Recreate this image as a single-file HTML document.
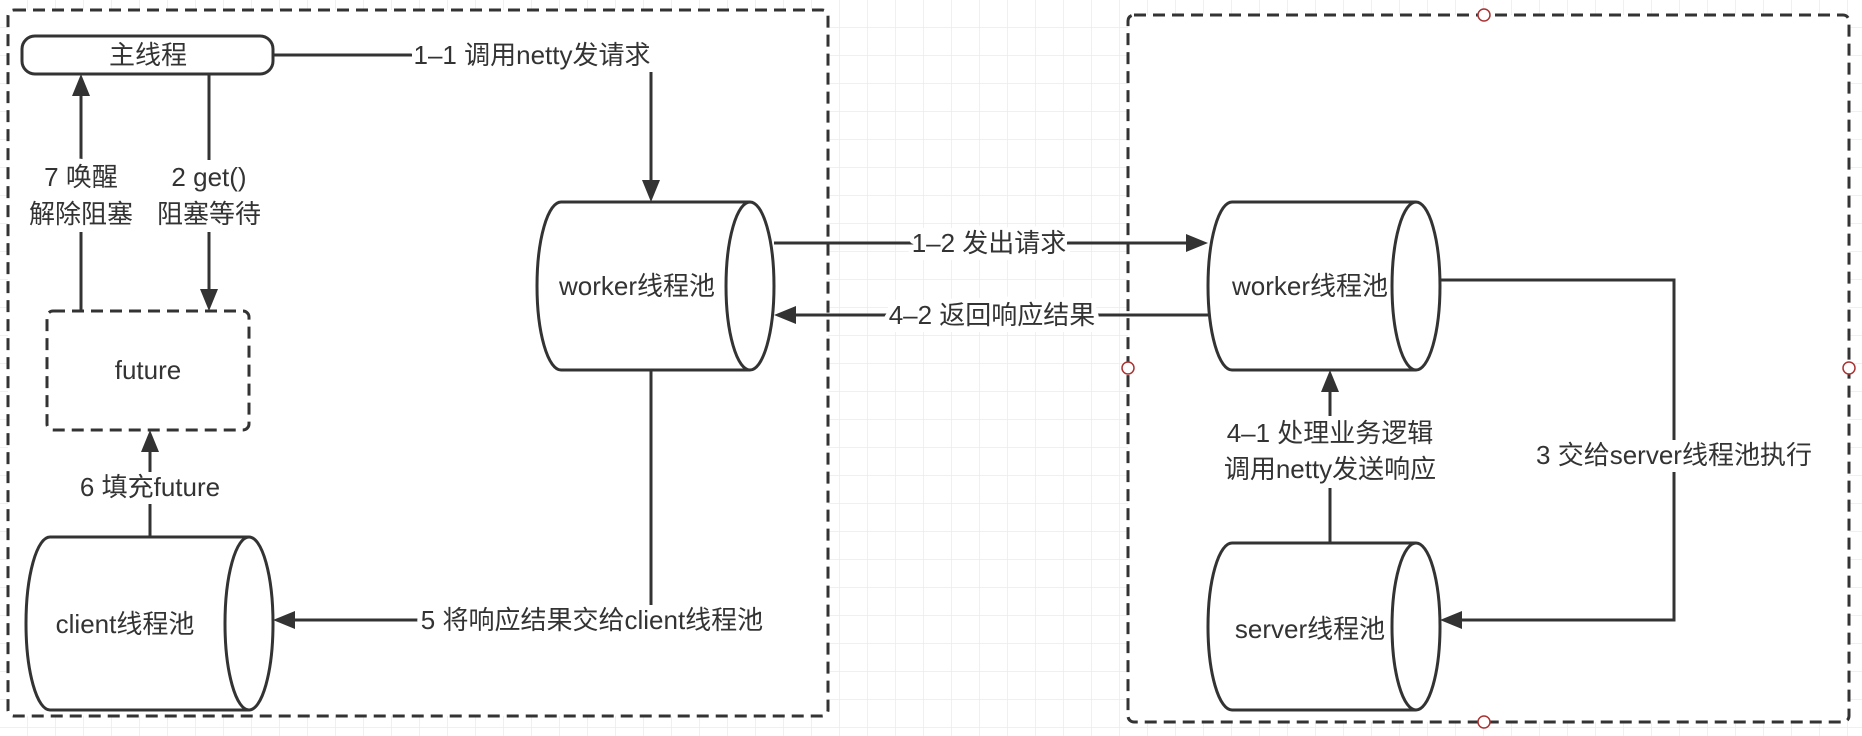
<!DOCTYPE html>
<html><head><meta charset="utf-8"><style>
html,body{margin:0;padding:0;background:#fff}
svg{display:block}
text{font-family:"Liberation Sans","Noto Sans CJK SC",sans-serif;font-size:26px;fill:#333}
.l{stroke:#fff;stroke-width:10px;paint-order:stroke;stroke-linejoin:round}
</style></head><body>
<svg width="1862" height="736" viewBox="0 0 1862 736" xmlns="http://www.w3.org/2000/svg">
<defs>
<pattern id="g" width="28" height="28" patternUnits="userSpaceOnUse">
<path d="M28 0V28M0 28H28" stroke="#ebebeb" stroke-width="1.5" fill="none"/>
</pattern>
</defs>
<rect width="1862" height="736" fill="url(#g)"/>
<rect x="8" y="10" width="820" height="706" rx="6" fill="#fff" stroke="#333" stroke-width="3" stroke-dasharray="12 7"/>
<rect x="1128" y="15" width="721" height="707" rx="6" fill="#fff" stroke="#333" stroke-width="3" stroke-dasharray="12 7"/>
<g fill="#fff" stroke="#a33" stroke-width="1.5">
<circle cx="1484" cy="15" r="6"/><circle cx="1128" cy="368" r="6"/><circle cx="1849" cy="368" r="6"/><circle cx="1484" cy="722" r="6"/>
</g>
<rect x="22" y="36" width="251" height="38" rx="13" fill="#fff" stroke="#333" stroke-width="3"/>
<text x="148" y="64" text-anchor="middle">主线程</text>
<rect x="47" y="311" width="202" height="119" rx="6" fill="#fff" stroke="#333" stroke-width="3" stroke-dasharray="12 7"/>
<text x="148" y="379" text-anchor="middle">future</text>
<g fill="#fff" stroke="#333" stroke-width="3">
<path d="M50 537H249A24 86.5 0 0 1 249 710H50A24 86.5 0 0 1 50 537ZM249 537A24 86.5 0 0 0 249 710"/>
<path d="M561 202H750A24 84 0 0 1 750 370H561A24 84 0 0 1 561 202ZM750 202A24 84 0 0 0 750 370"/>
<path d="M1232 202H1416A24 84 0 0 1 1416 370H1232A24 84 0 0 1 1232 202ZM1416 202A24 84 0 0 0 1416 370"/>
<path d="M1232 543H1416A24 83.5 0 0 1 1416 710H1232A24 83.5 0 0 1 1232 543ZM1416 543A24 83.5 0 0 0 1416 710"/>
</g>
<text x="125" y="633" text-anchor="middle">client线程池</text>
<text x="637" y="295" text-anchor="middle">worker线程池</text>
<text x="1310" y="295" text-anchor="middle">worker线程池</text>
<text x="1310" y="638" text-anchor="middle">server线程池</text>
<g fill="none" stroke="#333" stroke-width="3">
<path d="M273 55H651V188"/>
<path d="M209 74V297"/>
<path d="M81 311V88"/>
<path d="M150 537V444"/>
<path d="M651 370V620H287"/>
<path d="M774 243H1194"/>
<path d="M1208 315H788"/>
<path d="M1330 543V384"/>
<path d="M1440 280H1674V620H1454"/>
</g>
<g fill="#333">
<path d="M651 202l-9-22h18z"/>
<path d="M209 311l-9-22h18z"/>
<path d="M81 74l-9 22h18z"/>
<path d="M150 430l-9 22h18z"/>
<path d="M273 620l22-9v18z"/>
<path d="M1208 243l-22-9v18z"/>
<path d="M774 315l22-9v18z"/>
<path d="M1330 370l-9 22h18z"/>
<path d="M1440 620l22-9v18z"/>
</g>
<g fill="#fff">
<rect x="412" y="40" width="244" height="32"/>
<rect x="917" y="228" width="150" height="32"/>
<rect x="888" y="300" width="208" height="32"/>
<rect x="420" y="605" width="344" height="32"/>
<rect x="1540" y="440" width="268" height="32"/>
<rect x="80" y="472" width="140" height="32"/>
<rect x="32" y="160" width="100" height="72"/>
<rect x="160" y="160" width="100" height="72"/>
<rect x="1226" y="416" width="210" height="72"/>
</g>
<g class="l">
<text class="l" x="532" y="64" text-anchor="middle">1–1 调用netty发请求</text>
<text class="l" x="81" y="186" text-anchor="middle">7 唤醒</text>
<text class="l" x="81" y="223" text-anchor="middle">解除阻塞</text>
<text class="l" x="209" y="186" text-anchor="middle">2 get()</text>
<text class="l" x="209" y="223" text-anchor="middle">阻塞等待</text>
<text class="l" x="150" y="496" text-anchor="middle">6 填充future</text>
<text class="l" x="592" y="629" text-anchor="middle">5 将响应结果交给client线程池</text>
<text class="l" x="989" y="252" text-anchor="middle">1–2 发出请求</text>
<text class="l" x="992" y="324" text-anchor="middle">4–2 返回响应结果</text>
<text class="l" x="1330" y="442" text-anchor="middle">4–1 处理业务逻辑</text>
<text class="l" x="1330" y="478" text-anchor="middle">调用netty发送响应</text>
<text class="l" x="1674" y="464" text-anchor="middle">3 交给server线程池执行</text>
</g>
</svg>
</body></html>
